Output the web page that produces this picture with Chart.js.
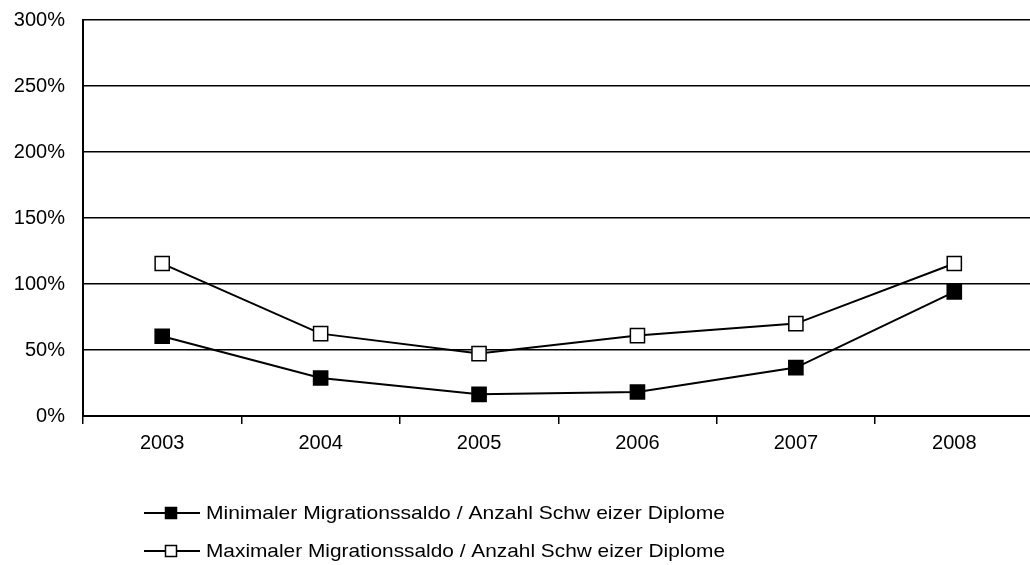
<!DOCTYPE html>
<html>
<head>
<meta charset="utf-8">
<script src="https://cdn.jsdelivr.net/npm/chart.js@4"></script>
<style>
html,body{margin:0;padding:0;background:#fff;overflow:hidden;}
#wrap{width:1045px;height:565px;position:relative;}
</style>
</head>
<body>
<div id="wrap"><canvas id="c" width="1045" height="565"></canvas></div>
<script>
const categories = ['2003','2004','2005','2006','2007','2008'];
const minValues = [60.4, 28.8, 16.4, 18.2, 36.7, 94.0];
const maxValues = [115.5, 62.4, 47.3, 60.9, 70.0, 115.5];
const seriesNames = ['Minimaler Migrationssaldo / Anzahl Schw eizer Diplome','Maximaler Migrationssaldo / Anzahl Schw eizer Diplome'];
const yTicks = [0, 50, 100, 150, 200, 250, 300];

const FONT = '"Liberation Sans", Arial, sans-serif';

const legendPlugin = {
  id: 'customLegend',
  afterDraw(chart) {
    const ctx = chart.ctx;
    ctx.save();
    chart.data.datasets.forEach((ds, i) => {
      const y = 513 + i * 38;
      ctx.strokeStyle = '#000';
      ctx.lineWidth = 2;
      ctx.beginPath();
      ctx.moveTo(144, y);
      ctx.lineTo(200, y);
      ctx.stroke();
      ctx.fillStyle = ds.pointBackgroundColor;
      ctx.lineWidth = 1.5;
      ctx.fillRect(165.5, y - 5.5, 11, 11);
      ctx.strokeRect(165.5, y - 5.5, 11, 11);
      ctx.fillStyle = '#000';
      ctx.font = '19px ' + FONT;
      ctx.textBaseline = 'middle';
      ctx.textAlign = 'left';
      const w = ctx.measureText(ds.label).width;
      const sx = 519 / w;
      ctx.save();
      ctx.translate(206, y + 1);
      ctx.scale(sx, 1);
      ctx.fillText(ds.label, 0, 0);
      ctx.restore();
    });
    ctx.restore();
  }
};

new Chart(document.getElementById('c'), {
  type: 'line',
  data: {
    labels: categories,
    datasets: [
      {label: seriesNames[0], data: minValues, borderColor:'#000', borderWidth:2,
       pointStyle:'rect', pointRadius:10, pointHoverRadius:10, pointBackgroundColor:'#000', pointBorderColor:'#000', pointBorderWidth:1.5, tension:0},
      {label: seriesNames[1], data: maxValues, borderColor:'#000', borderWidth:2,
       pointStyle:'rect', pointRadius:10, pointHoverRadius:10, pointBackgroundColor:'#fff', pointBorderColor:'#000', pointBorderWidth:1.5, tension:0}
    ]
  },
  options: {
    responsive:false, animation:false,
    layout:{padding:{left:0, top:20, right:5, bottom:100}},
    plugins:{legend:{display:false}, tooltip:{enabled:false}},
    scales:{
      x:{
        offset:true,
        grid:{offset:true, drawOnChartArea:false, color:'#000', lineWidth:1.5, tickLength:8},
        border:{display:true, color:'#000', width:2},
        ticks:{color:'#000', font:{family:FONT, size:20}, padding:7, maxRotation:0},
        afterFit(s){ s.height = 49; s.paddingLeft = 0; s.paddingRight = 0; }
      },
      y:{
        min:0, max:300,
        afterBuildTicks(s){ s.ticks = yTicks.map(v=>({value:v})); },
        grid:{color:'#000', lineWidth:1.5, drawTicks:false},
        border:{display:true, color:'#000', width:2},
        ticks:{color:'#000', font:{family:FONT, size:20}, padding:18, callback:v=>v+'%'},
        afterFit(s){ s.width = 83; s.paddingTop = 0; s.paddingBottom = 0; }
      }
    }
  },
  plugins:[legendPlugin]
});
</script>
</body>
</html>
